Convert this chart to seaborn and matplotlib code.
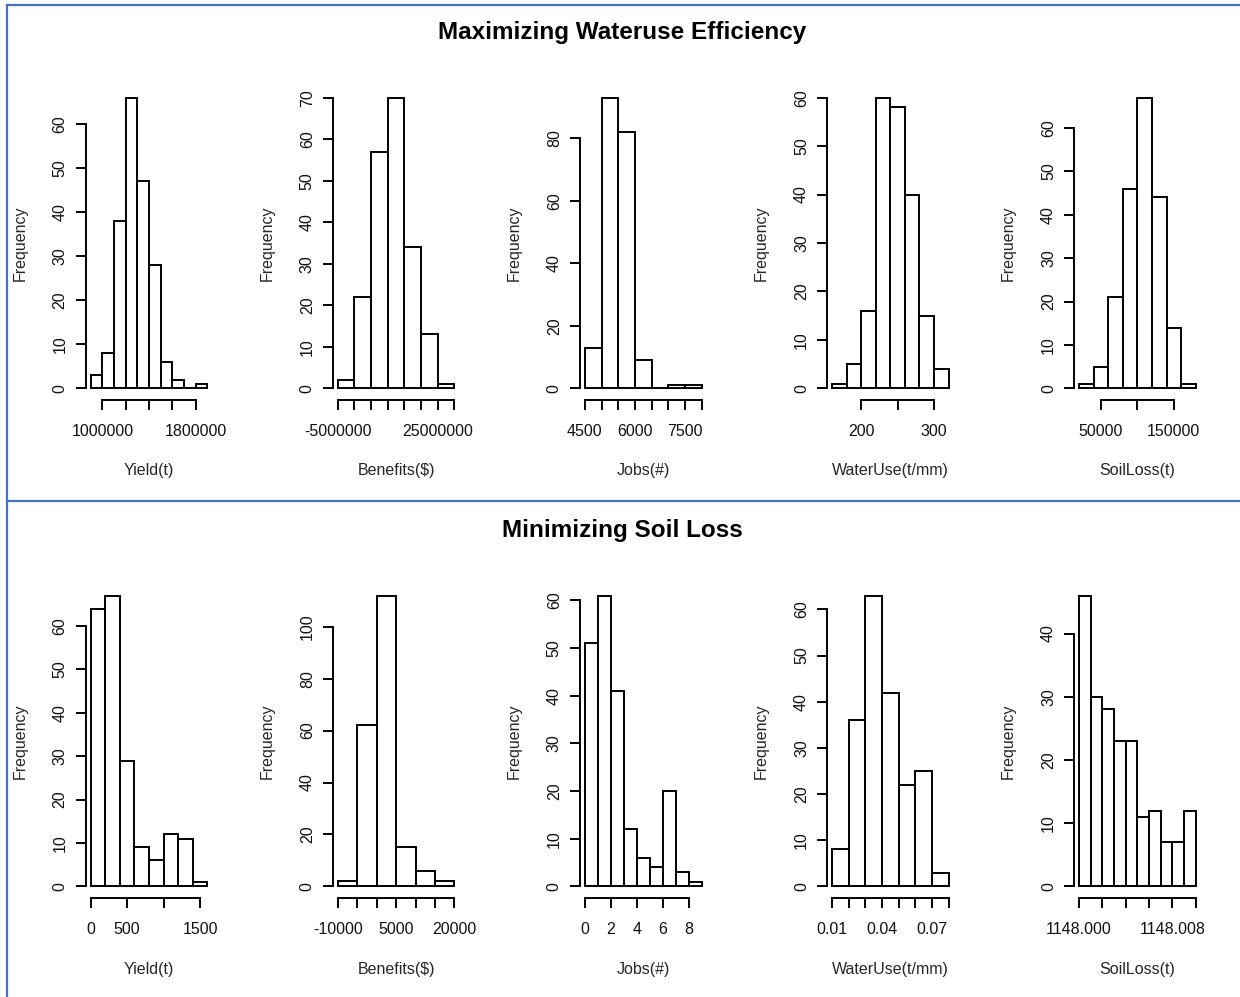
import numpy as np
import pandas as pd
import matplotlib
matplotlib.use("Agg")
import matplotlib.pyplot as plt
from matplotlib.lines import Line2D
import seaborn as sns

# ---------------- Maximizing Wateruse Efficiency ----------------
wue_yield_start, wue_yield_width = 900000, 100000
wue_yield_counts = [3, 8, 38, 66, 47, 28, 6, 2, 0, 1]
wue_yield_xticks = [1000000, 1200000, 1400000, 1600000, 1800000]
wue_yield_xlabels = ["1000000", "", "", "", "1800000"]
wue_yield_yticks = [0, 10, 20, 30, 40, 50, 60]

wue_benefit_start, wue_benefit_width = -5000000, 5000000
wue_benefit_counts = [2, 22, 57, 70, 34, 13, 1]
wue_benefit_xticks = [-5000000, 0, 5000000, 10000000, 15000000, 20000000, 25000000, 30000000]
wue_benefit_xlabels = ["-5000000", "", "", "", "", "", "25000000", ""]
wue_benefit_yticks = [0, 10, 20, 30, 40, 50, 60, 70]

wue_jobs_start, wue_jobs_width = 4500, 500
wue_jobs_counts = [13, 93, 82, 9, 0, 1, 1]
wue_jobs_xticks = [4500, 5000, 5500, 6000, 6500, 7000, 7500, 8000]
wue_jobs_xlabels = ["4500", "", "", "6000", "", "", "7500", ""]
wue_jobs_yticks = [0, 20, 40, 60, 80]

wue_water_start, wue_water_width = 160, 20
wue_water_counts = [1, 5, 16, 60, 58, 40, 15, 4]
wue_water_xticks = [200, 250, 300]
wue_water_xlabels = ["200", "", "300"]
wue_water_yticks = [0, 10, 20, 30, 40, 50, 60]

wue_soil_start, wue_soil_width = 20000, 20000
wue_soil_counts = [1, 5, 21, 46, 67, 44, 14, 1]
wue_soil_xticks = [50000, 100000, 150000]
wue_soil_xlabels = ["50000", "", "150000"]
wue_soil_yticks = [0, 10, 20, 30, 40, 50, 60]

# ---------------- Minimizing Soil Loss ----------------
msl_yield_start, msl_yield_width = 0, 200
msl_yield_counts = [64, 67, 29, 9, 6, 12, 11, 1]
msl_yield_xticks = [0, 500, 1000, 1500]
msl_yield_xlabels = ["0", "500", "", "1500"]
msl_yield_yticks = [0, 10, 20, 30, 40, 50, 60]

msl_benefit_start, msl_benefit_width = -10000, 5000
msl_benefit_counts = [2, 62, 112, 15, 6, 2]
msl_benefit_xticks = [-10000, -5000, 0, 5000, 10000, 15000, 20000]
msl_benefit_xlabels = ["-10000", "", "", "5000", "", "", "20000"]
msl_benefit_yticks = [0, 20, 40, 60, 80, 100]

msl_jobs_start, msl_jobs_width = 0, 1
msl_jobs_counts = [51, 61, 41, 12, 6, 4, 20, 3, 1]
msl_jobs_xticks = [0, 2, 4, 6, 8]
msl_jobs_xlabels = ["0", "2", "4", "6", "8"]
msl_jobs_yticks = [0, 10, 20, 30, 40, 50, 60]

msl_water_start, msl_water_width = 0.01, 0.01
msl_water_counts = [8, 36, 63, 42, 22, 25, 3]
msl_water_xticks = [0.01, 0.02, 0.03, 0.04, 0.05, 0.06, 0.07, 0.08]
msl_water_xlabels = ["0.01", "", "", "0.04", "", "", "0.07", ""]
msl_water_yticks = [0, 10, 20, 30, 40, 50, 60]

msl_soil_start, msl_soil_width = 1148.000, 0.001
msl_soil_counts = [46, 30, 28, 23, 23, 11, 12, 7, 7, 12]
msl_soil_xticks = [1148.000, 1148.002, 1148.004, 1148.006, 1148.008, 1148.010]
msl_soil_xlabels = ["1148.000", "", "", "", "1148.008", ""]
msl_soil_yticks = [0, 10, 20, 30, 40]

variable_names = ["Yield(t)", "Benefits($)", "Jobs(#)", "WaterUse(t/mm)", "SoilLoss(t)"]
scenario_titles = ["Maximizing Wateruse Efficiency", "Minimizing Soil Loss"]

rows = [
    [
        (wue_yield_start, wue_yield_width, wue_yield_counts, wue_yield_xticks, wue_yield_xlabels, wue_yield_yticks),
        (wue_benefit_start, wue_benefit_width, wue_benefit_counts, wue_benefit_xticks, wue_benefit_xlabels, wue_benefit_yticks),
        (wue_jobs_start, wue_jobs_width, wue_jobs_counts, wue_jobs_xticks, wue_jobs_xlabels, wue_jobs_yticks),
        (wue_water_start, wue_water_width, wue_water_counts, wue_water_xticks, wue_water_xlabels, wue_water_yticks),
        (wue_soil_start, wue_soil_width, wue_soil_counts, wue_soil_xticks, wue_soil_xlabels, wue_soil_yticks),
    ],
    [
        (msl_yield_start, msl_yield_width, msl_yield_counts, msl_yield_xticks, msl_yield_xlabels, msl_yield_yticks),
        (msl_benefit_start, msl_benefit_width, msl_benefit_counts, msl_benefit_xticks, msl_benefit_xlabels, msl_benefit_yticks),
        (msl_jobs_start, msl_jobs_width, msl_jobs_counts, msl_jobs_xticks, msl_jobs_xlabels, msl_jobs_yticks),
        (msl_water_start, msl_water_width, msl_water_counts, msl_water_xticks, msl_water_xlabels, msl_water_yticks),
        (msl_soil_start, msl_soil_width, msl_soil_counts, msl_soil_xticks, msl_soil_xlabels, msl_soil_yticks),
    ],
]

sns.set_theme(style="ticks")
plt.rcParams["font.family"] = ["Liberation Sans", "DejaVu Sans"]
plt.rcParams["text.color"] = "#111111"

W, H = 1240, 997
fig = plt.figure(figsize=(W / 100, H / 100), dpi=100)
fig.patch.set_facecolor("white")

LW = 1.4
FS = 11.5
panel_w, panel_h = 126, 314
col_left0, col_step = 86, 247.1
row_bottoms = [400, 898]          # pixel row of each row's plot-region bottom
title_y = [32, 530]


def draw_hist(ax, start, width, counts, xticks, xlabels, yticks, xlabel):
    counts = np.asarray(counts, dtype=float)
    edges = start + width * np.arange(len(counts) + 1)
    centers = (edges[:-1] + edges[1:]) / 2
    binned = pd.DataFrame({"value": centers, "count": counts})
    sns.histplot(data=binned, x="value", weights="count", bins=list(edges), stat="count",
                 ax=ax, color="white", edgecolor="black", linewidth=LW, alpha=1)
    lo, hi = edges[0], edges[-1]
    pad = 0.04 * (hi - lo)
    ax.set_xlim(lo - pad, hi + pad)
    top = counts.max()
    ax.set_ylim(-0.04 * top, 1.04 * top)

    for s in ("top", "right"):
        ax.spines[s].set_visible(False)
    for s in ("left", "bottom"):
        ax.spines[s].set_linewidth(LW)
        ax.spines[s].set_color("black")
    ax.spines["left"].set_bounds(yticks[0], yticks[-1])
    ax.spines["bottom"].set_bounds(xticks[0], xticks[-1])

    ax.set_xticks(xticks)
    ax.set_xticklabels(xlabels)
    ax.set_yticks(yticks)
    ax.set_yticklabels([str(v) for v in yticks], rotation=90, va="center")
    ax.tick_params(axis="both", direction="out", length=7.2, width=LW,
                   color="black", labelsize=FS, labelcolor="#111111")
    ax.tick_params(axis="x", pad=10)
    ax.tick_params(axis="y", pad=6)

    ax.set_xlabel(xlabel, fontsize=FS)
    ax.xaxis.set_label_coords(0.5, -71 / panel_h)
    ax.xaxis.label.set_verticalalignment("center")
    ax.set_ylabel("Frequency", fontsize=FS)
    ax.yaxis.set_label_coords(-66 / panel_w, 0.5)
    ax.yaxis.label.set_verticalalignment("center")
    ax.grid(False)
    ax.set_facecolor("white")


for r, row in enumerate(rows):
    for c, spec in enumerate(row):
        left = col_left0 + col_step * c
        bottom = row_bottoms[r]
        ax = fig.add_axes([left / W, 1 - bottom / H, panel_w / W, panel_h / H])
        draw_hist(ax, *spec, variable_names[c])
    fig.text(622 / W, 1 - title_y[r] / H, scenario_titles[r], ha="center", va="center",
             fontsize=17.5, fontweight="bold", color="black")

# Blue frame around the two scenario blocks
border = "#4472C4"
blw = 1.6
fig.add_artist(Line2D([6.5 / W, 6.5 / W], [1 - 5 / H, 0], color=border, lw=blw))
fig.add_artist(Line2D([6.5 / W, 1], [1 - 5 / H, 1 - 5 / H], color=border, lw=blw))
fig.add_artist(Line2D([6.5 / W, 1], [1 - 501 / H, 1 - 501 / H], color=border, lw=blw))

fig.savefig("out.png", dpi=100, facecolor="white")
